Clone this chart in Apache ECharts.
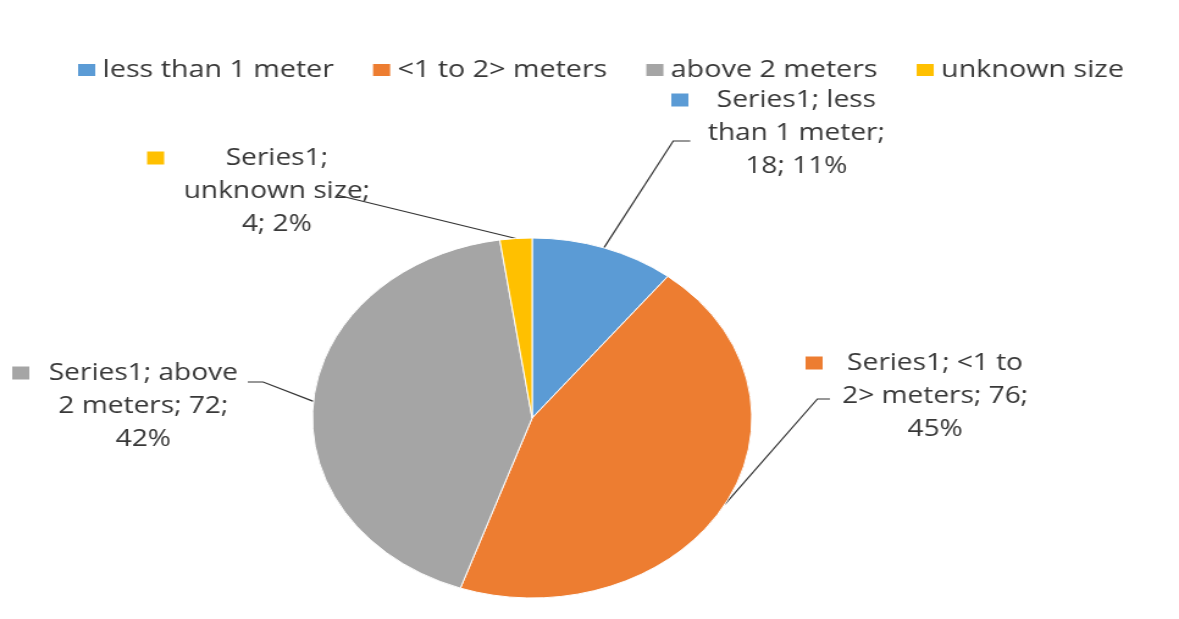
<!DOCTYPE html>
<html>
<head>
<meta charset="utf-8">
<title>Size pie</title>
<script src="https://cdn.jsdelivr.net/npm/echarts@6/dist/echarts.min.js"></script>
<style>
	html, body { margin: 0; padding: 0; background: #fff; overflow: hidden; }
	/* the source picture is stretched sideways, so draw it narrow and widen it */
	#size-pie { width: 966px; height: 619px; transform: scaleX(1.2205); transform-origin: 0 0; }
</style>
</head>
<body>
<div id="size-pie"></div>
<script>
	const seriesName = 'Series1';
	const categories = ['less than 1 meter', '<1 to 2> meters', 'above 2 meters', 'unknown size'];
	const counts = [18, 76, 72, 4];
	const colors = ['#5B9BD5', '#ED7D31', '#A5A5A5', '#FFC000'];

	// where each data label block sits (left, top) and the bend of its leader line
	const labelSpots = [
		{ x: 550, y: 83.5, line: [[551.6, 141], [565.6, 141]] },
		{ x: 660, y: 346.5, line: [[669.7, 399], [680, 399]] },
		{ x: 10, y: 356.5, line: [[215.6, 382], [203, 382]] },
		{ x: 120.5, y: 141.5, line: [[276, 195]] }
	];

	const font = '"Open Sans", "Liberation Sans", sans-serif';
	const textColor = '#383838';

	// wrap like excel does in its narrow label box
	function wrap(text, maxChars) {
		let lines = [];
		let cur = '';
		text.split(' ').map((w) => {
			if(cur && (cur + ' ' + w).length > maxChars) {
				lines.push(cur);
				cur = w;
			} else {
				cur = cur ? cur + ' ' + w : w;
			}
		});
		if(cur) lines.push(cur);
		return lines;
	}

	let rich = {
		t: { align: 'center', fontSize: 23, lineHeight: 33, color: textColor, fontFamily: font },
		g: { align: 'left', width: 16, height: 13 },
		sp: { align: 'left', width: 30, height: 13 }
	};
	colors.map((c, i) => {
		rich['m' + i] = { align: 'left', width: 14, height: 13, backgroundColor: c };
	});

	let sizePie = echarts.init(document.getElementById('size-pie'));
	const option = {
		backgroundColor: '#fff',
		color: colors,
		legend: {
			data: categories,
			left: 57,
			top: 53,
			icon: 'rect',
			itemWidth: 16,
			itemHeight: 14,
			itemGap: 30,
			textStyle: {
				fontSize: 23.5,
				color: textColor,
				fontFamily: font
			}
		},
		series: [{
			name: seriesName,
			type: 'pie',
			center: [436, 418],
			radius: 180,
			startAngle: 90,
			clockwise: true,
			avoidLabelOverlap: false,
			itemStyle: {
				borderColor: '#fff',
				borderWidth: 1
			},
			label: {
				show: true,
				position: 'outside',
				formatter: function(p) {
					const txt = p.seriesName + '; ' + p.name + '; ' + p.value + '; ' + Math.round(p.percent) + '%';
					return wrap(txt, 14).map((line, i) => {
						const lead = i === 0 ? '{m' + p.dataIndex + '|}{g|}' : '{sp|}';
						return lead + '{t|' + line + '}';
					}).join('\n');
				},
				rich: rich
			},
			labelLine: {
				show: true,
				length: 20,
				length2: 10,
				lineStyle: {
					color: '#333',
					width: 1.2
				}
			},
			labelLayout: function(params) {
				const spot = labelSpots[params.dataIndex];
				const anchor = params.labelLinePoints ? params.labelLinePoints[0] : null;
				let out = {
					x: spot.x,
					y: spot.y,
					align: 'left',
					verticalAlign: 'top'
				};
				if(anchor) {
					out.labelLinePoints = [anchor].concat(spot.line);
				}
				return out;
			},
			data: categories.map((name, i) => ({ name: name, value: counts[i] }))
		}]
	};
	sizePie.setOption(option);
</script>
</body>
</html>
